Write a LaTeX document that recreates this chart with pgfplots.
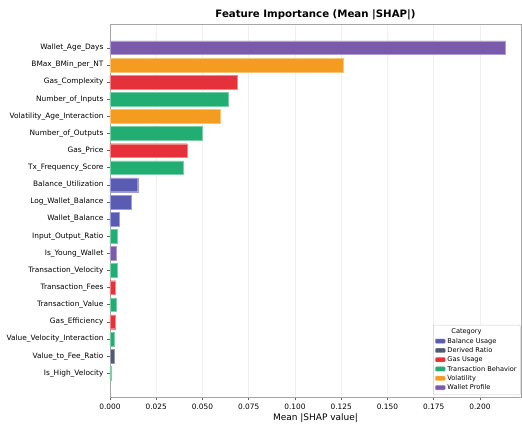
\documentclass[border=0pt]{standalone}
\usepackage{pgfplots}
\pgfplotsset{compat=1.18}
\usepackage{fontspec}
\setmainfont{DejaVu Sans}
\definecolor{cBal}{HTML}{5A5CB4}
\definecolor{cDer}{HTML}{4E5B78}
\definecolor{cGas}{HTML}{E5323A}
\definecolor{cTx}{HTML}{22AD72}
\definecolor{cVol}{HTML}{F39C20}
\definecolor{cWal}{HTML}{7A5BAB}
\begin{document}
\begin{tikzpicture}
\begin{axis}[
  name=ax,
  scale only axis,
  width=411pt, height=373pt,
  xbar, bar shift=0pt, bar width=0.8,
  xmin=0, xmax=0.2222,
  ymin=-1.39, ymax=20.39,
  ytick={0,...,19},
  yticklabels={Is\_High\_Velocity,Value\_to\_Fee\_Ratio,Value\_Velocity\_Interaction,Gas\_Efficiency,Transaction\_Value,Transaction\_Fees,Transaction\_Velocity,Is\_Young\_Wallet,Input\_Output\_Ratio,Wallet\_Balance,Log\_Wallet\_Balance,Balance\_Utilization,Tx\_Frequency\_Score,Gas\_Price,Number\_of\_Outputs,Volatility\_Age\_Interaction,Number\_of\_Inputs,Gas\_Complexity,BMax\_BMin\_per\_NT,Wallet\_Age\_Days},
  xtick={0,0.025,0.05,0.075,0.1,0.125,0.15,0.175,0.2},
  xticklabel style={/pgf/number format/fixed,/pgf/number format/fixed zerofill,/pgf/number format/precision=3},
  /pgf/number format/assume math mode=true,
  ticklabel style={font=\fontsize{7.4}{8.5}\selectfont},
  tick align=outside, tick pos=left,
  major tick length=3pt,
  tick style={gray!80!black, line width=0.5pt},
  axis line style={gray!70},
  xmajorgrids, grid style={gray!12, line width=0.5pt},
  xlabel={Mean |SHAP value|},
  xlabel style={font=\fontsize{9}{10}\selectfont, yshift=2.5pt},
  title={\textbf{Feature Importance (Mean |SHAP|)}},
  title style={font=\fontsize{10.2}{11}\selectfont, at={(0.5,1)}, anchor=base, yshift=0pt},
  legend style={at={(0.999,0.005)}, anchor=south east, font=\fontsize{6.6}{7.5}\selectfont, draw=gray!40, fill=white, rounded corners=1pt, row sep=-1.2pt, inner sep=1.8pt},
  legend cell align=left,
  legend image code/.code={\fill[#1] (0pt,-2pt) rectangle (10pt,2.5pt);},
]
\addlegendimage{empty legend}
\addlegendentry{\hspace{4pt}Category}
\addplot[fill=cBal, draw=cBal!60!white, line width=0.3pt] coordinates {(0.0150,11) (0.0113,10) (0.0050,9)};
\addlegendentry{Balance Usage}
\addplot[fill=cDer, draw=cDer!60!white, line width=0.3pt] coordinates {(0.0020,1)};
\addlegendentry{Derived Ratio}
\addplot[fill=cGas, draw=cGas!60!white, line width=0.3pt] coordinates {(0.0690,17) (0.0417,13) (0.0030,5) (0.0030,3)};
\addlegendentry{Gas Usage}
\addplot[fill=cTx, draw=cTx!60!white, line width=0.3pt] coordinates {(0.0640,16) (0.0500,14) (0.0397,12) (0.0037,8) (0.0037,6) (0.0033,4) (0.0022,2) (0.0005,0)};
\addlegendentry{Transaction Behavior}
\addplot[fill=cVol, draw=cVol!60!white, line width=0.3pt] coordinates {(0.1260,18) (0.0595,15)};
\addlegendentry{Volatility}
\addplot[fill=cWal, draw=cWal!60!white, line width=0.3pt] coordinates {(0.2137,19) (0.0035,7)};
\addlegendentry{Wallet Profile}
\end{axis}
\pgfresetboundingbox
\path ([shift={(-110pt,-26pt)}]ax.south west) rectangle ([shift={(1pt,24pt)}]ax.north east);
\end{tikzpicture}
\end{document}
